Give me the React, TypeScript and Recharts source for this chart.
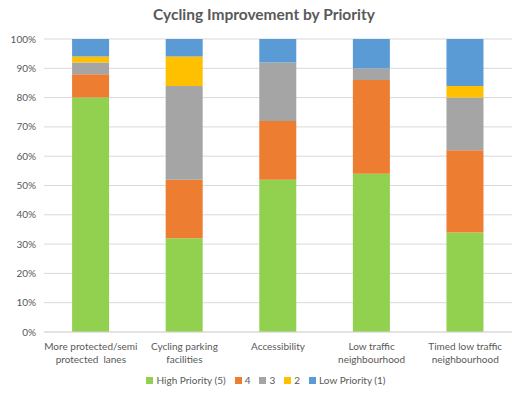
import { Bar, BarChart, CartesianGrid, XAxis, YAxis } from "recharts"

const categories = [
  "More protected/semi protected  lanes",
  "Cycling parking facilities",
  "Accessibility",
  "Low traffic neighbourhood",
  "Timed low traffic neighbourhood",
]

// label lines as they wrap in the original
const categoryLines = [
  ["More protected/semi", "protected  lanes"],
  ["Cycling parking", "facilities"],
  ["Accessibility"],
  ["Low traffic", "neighbourhood"],
  ["Timed low traffic", "neighbourhood"],
]

const high = [80, 32, 52, 54, 34]
const four = [8, 20, 20, 32, 28]
const three = [4, 32, 20, 4, 18]
const two = [2, 10, 0, 0, 4]
const low = [6, 6, 8, 10, 16]

const yTicks = [0, 10, 20, 30, 40, 50, 60, 70, 80, 90, 100]

const series = [
  { key: "high", name: "High Priority (5)", color: "#92D050" },
  { key: "four", name: "4", color: "#ED7D31" },
  { key: "three", name: "3", color: "#A5A5A5" },
  { key: "two", name: "2", color: "#FFC000" },
  { key: "low", name: "Low Priority (1)", color: "#5B9BD5" },
]

const data = categories.map((name, i) => ({
  name,
  high: high[i],
  four: four[i],
  three: three[i],
  two: two[i],
  low: low[i],
}))

const FONT = "Lato, 'Open Sans', sans-serif"
const TEXT = "#595959"

function CategoryTick({ x, y, index }: any) {
  const lines = categoryLines[index] ?? []
  return (
    <g transform={`translate(${x},${y})`}>
      {lines.map((line, i) => (
        <text
          key={i}
          x={0}
          y={10 + i * 13}
          textAnchor="middle"
          fill={TEXT}
          fontSize={10}
          fontFamily={FONT}
          style={{ whiteSpace: "pre" }}
        >
          {line}
        </text>
      ))}
    </g>
  )
}

export default function App() {
  return (
    <div style={{ position: "absolute", left: 0, top: 0, width: 522, height: 406, background: "#fff" }}>
      <div
        style={{
          position: "absolute",
          left: 0,
          top: 5,
          width: 528,
          textAlign: "center",
          fontFamily: FONT,
          fontWeight: 700,
          fontSize: 15.5,
          color: TEXT,
        }}
      >
        Cycling Improvement by Priority
      </div>
      <BarChart
        width={522}
        height={406}
        data={data}
        margin={{ top: 39, right: 10, left: 0, bottom: 0 }}
        barCategoryGap="30%"
      >
        <CartesianGrid vertical={false} stroke="#D9D9D9" />
        <XAxis
          dataKey="name"
          tickLine={false}
          axisLine={{ stroke: "#D9D9D9" }}
          tick={<CategoryTick />}
          interval={0}
          height={74}
        />
        <YAxis
          width={44}
          domain={[0, 100]}
          ticks={yTicks}
          tickFormatter={(v) => `${v}%`}
          tickLine={false}
          axisLine={false}
          tick={{ fill: TEXT, fontSize: 10, fontFamily: FONT }}
        />
        {series.map((s) => (
          <Bar
            key={s.key}
            dataKey={s.key}
            name={s.name}
            stackId="a"
            fill={s.color}
            isAnimationActive={false}
          />
        ))}
      </BarChart>
      <div
        style={{
          position: "absolute",
          left: 0,
          top: 374,
          width: 532,
          display: "flex",
          justifyContent: "center",
          gap: 9,
          fontFamily: FONT,
          fontSize: 10,
          color: TEXT,
        }}
      >
        {series.map((s) => (
          <span key={s.key} style={{ display: "flex", alignItems: "center", gap: 3 }}>
            <span style={{ width: 7, height: 7, background: s.color, display: "inline-block" }} />
            {s.name}
          </span>
        ))}
      </div>
    </div>
  )
}
